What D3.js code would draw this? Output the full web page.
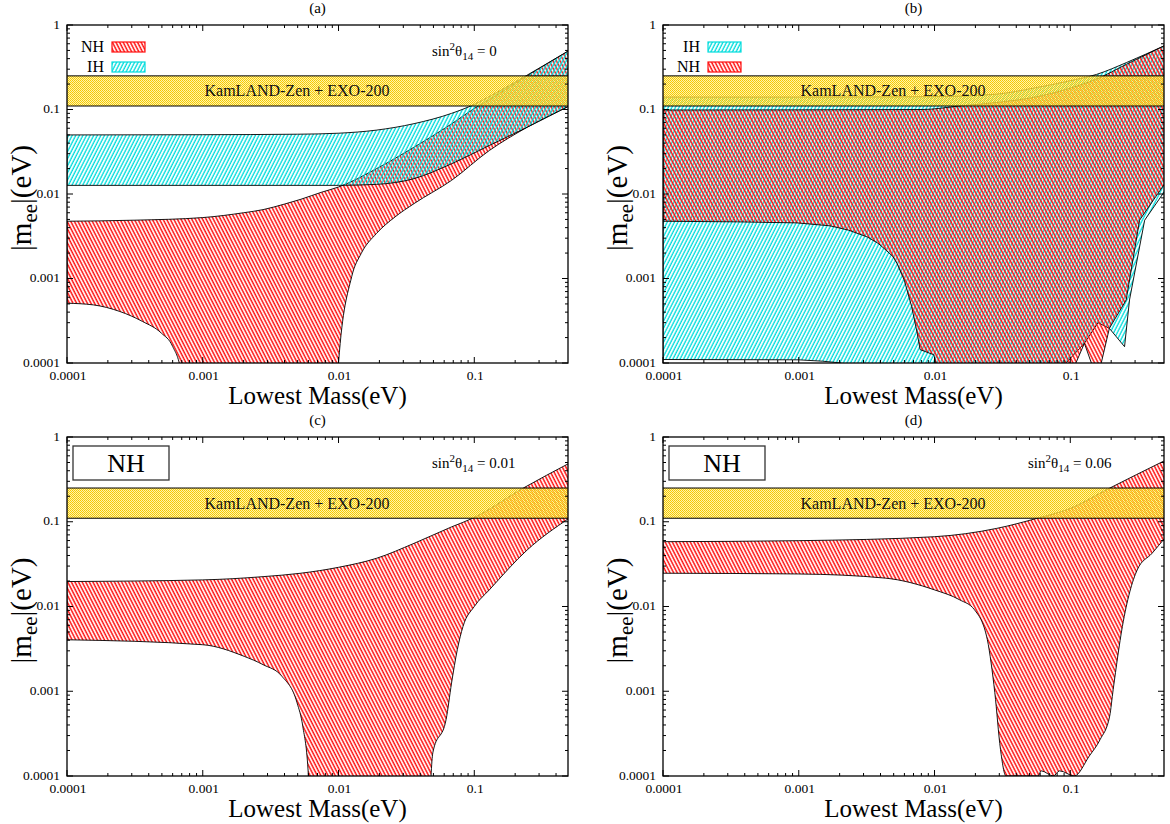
<!DOCTYPE html>
<html><head><meta charset="utf-8">
<script src="https://cdn.jsdelivr.net/npm/d3@7"></script>
<style>
body{margin:0;background:#fff;}
svg{display:block;font-family:"Liberation Serif","Times New Roman",serif;}
</style>
</head><body>
<svg id="chart" width="1170" height="824"></svg>
<script>
// ---------------- data ----------------
const xTickValues = [1e-4, 1e-3, 1e-2, 1e-1];
const xTickLabels = ["0.0001", "0.001", "0.01", "0.1"];
const yTickValues = [1e-4, 1e-3, 1e-2, 1e-1, 1];
const yTickLabels = ["0.0001", "0.001", "0.01", "0.1", "1"];
const xDomain = [1e-4, 0.49];
const yDomain = [1e-4, 1];
const bandRange = [0.11, 0.25];
const bandLabel = "KamLAND-Zen + EXO-200";
const panelLabels = ["(a)", "(b)", "(c)", "(d)"];
const sinValues = ["0", null, "0.01", "0.06"];
const xTitle = "Lowest Mass(eV)";

// boundaries (x ascending); values below 1e-4 lie under the plot floor
// panel (a), sin^2 theta14 = 0
const aNHupper = [[1e-4,0.00476],[3.16e-4,0.0049],[1e-3,0.00526],[0.002,0.006],[0.00278,0.00653],[0.004,0.0076],
  [0.00527,0.00865],[0.0075,0.0105],[0.01,0.0121],[0.019,0.0199],[0.036,0.0358],[0.068,0.0675],[0.1,0.103],
  [0.129,0.131],[0.245,0.25],[0.5,0.5]];
const aNHlower = [[1e-4,5.1e-4],[1.565e-4,4.87e-4],[2.45e-4,4.07e-4],[3.6e-4,3.1e-4],[4.95e-4,2.26e-4],[6.0e-4,1.57e-4],
  [6.9e-4,8e-5],[7.2e-4,5e-5],[0.0098,5e-5],[0.01,1e-4],[0.0125,0.00105],[0.0147,0.00198],[0.019,0.0034],
  [0.0261,0.00536],[0.036,0.0077],[0.068,0.0145],[0.129,0.0327],[0.245,0.0616],[0.5,0.11]];
const aIHupper = [[1e-4,0.05],[0.001,0.0503],[0.005,0.051],[0.01,0.0524],[0.019,0.057],[0.036,0.068],[0.068,0.09],
  [0.1,0.115],[0.129,0.142],[0.245,0.255],[0.5,0.5]];
const aIHlower = [[1e-4,0.01265],[0.01,0.01265],[0.019,0.013],[0.036,0.0152],[0.068,0.0228],[0.129,0.0375],
  [0.245,0.0616],[0.5,0.11]];
// panel (b)
const bIHupper = [[1e-4,0.14],[0.001,0.14],[0.01,0.142],[0.0286,0.152],[0.0536,0.179],[0.1,0.219],[0.156,0.26],
  [0.26,0.36],[0.5,0.575]];
const bIHlower = [[1e-4,1.1e-4],[0.001,1.09e-4],[0.0015,1.05e-4],[0.00206,1e-4],[0.0025,5e-5],[0.09,5e-5],[0.093,1e-4],
  [0.127,0.000171],[0.16,0.0003],[0.194,0.000257],[0.251,0.000156],[0.273,0.000557],[0.353,0.0049],[0.5,0.011]];
const bNHupper = [[1e-4,0.0986],[0.0082,0.1],[0.0152,0.11],[0.0286,0.121],[0.0536,0.139],[0.1,0.179],[0.156,0.229],
  [0.26,0.344],[0.5,0.575]];
const bNHlower = [[1e-4,0.00476],[3.55e-4,0.00468],[9.7e-4,0.00455],[0.0017,0.0042],[0.00233,0.00373],[0.0032,0.0031],
  [0.00385,0.0026],[0.0044,0.00216],[0.00495,0.00181],[0.0053,0.0015],[0.00598,0.00096],[0.00678,0.000466],
  [0.00745,0.000226],[0.00783,0.000144],[0.00989,0.000125],[0.0102,1e-4],[0.0104,5e-5],[0.108,5e-5],[0.11,1e-4],
  [0.127,0.000171],[0.143,1e-4],[0.145,5e-5],[0.167,5e-5],[0.169,1e-4],[0.194,0.000257],[0.258,0.000557],
  [0.324,0.0049],[0.5,0.0135]];
// panel (c), sin^2 theta14 = 0.01
const cNHupper = [[1e-4,0.0197],[0.001,0.0206],[0.00278,0.0225],[0.00527,0.0247],[0.01,0.029],[0.019,0.037],
  [0.036,0.0556],[0.068,0.087],[0.0973,0.11],[0.23,0.25],[0.5,0.49]];
const cNHlower = [[1e-4,0.00405],[0.001,0.00354],[0.00202,0.00258],[0.00278,0.00206],[0.00383,0.0015],[0.00495,0.00073],
  [0.00545,0.000388],[0.006,1e-4],[0.0061,5e-5],[0.047,5e-5],[0.048,1e-4],[0.0495,0.000188],[0.062,0.000464],
  [0.068,0.00125],[0.075,0.0031],[0.0826,0.00582],[0.1,0.01],[0.129,0.0157],[0.245,0.0464],[0.5,0.11]];
// panel (d), sin^2 theta14 = 0.06
const dNHupper = [[1e-4,0.0582],[0.001,0.0598],[0.01,0.0666],[0.0287,0.0835],[0.0571,0.11],[0.1,0.1435],
  [0.188,0.242],[0.5,0.53]];
const dNHlower = [[1e-4,0.0247],[0.001,0.0242],[0.00436,0.0216],[0.01,0.0157],[0.0153,0.012],[0.0197,0.00914],
  [0.0245,0.00405],[0.0261,0.00216],[0.0278,0.00096],[0.0306,0.000206],[0.0336,1e-4],[0.058,1e-4],[0.061,1.15e-4],
  [0.075,1e-4],[0.0834,1.15e-4],[0.107,1e-4],[0.138,0.000172],[0.166,0.00027],[0.195,0.000508],[0.207,0.00105],
  [0.242,0.00582],[0.311,0.027],[0.4,0.0424],[0.5,0.065]];

// ---------------- layout & styles ----------------
const layout = [
  {x0:67, x1:568, y0:25, y1:363},
  {x0:663, x1:1164, y0:25, y1:363},
  {x0:67, x1:568, y0:437, y1:776},
  {x0:663, x1:1164, y0:437, y1:776}
];
const panelRegions = [
  [{u:aNHupper,l:aNHlower,h:"NH",lc:"m"},{u:aIHupper,l:aIHlower,h:"IH",lc:"m"}],
  [{u:bIHupper,l:bIHlower,h:"IH",lc:"lin"},{u:bNHupper,l:bNHlower,h:"NH",lc:"lin"}],
  [{u:cNHupper,l:cNHlower,h:"NH",lc:"m"}],
  [{u:dNHupper,l:dNHlower,h:"NH",lc:"m"}]
];
const legendKinds = [["NH","IH"],["IH","NH"],null,null];
const hatchColor = {NH:"#ff1010", IH:"#00dcdc"};

const svg = d3.select("#chart");
const defs = svg.append("defs");

function hatch(id, color, angle, w){
  const p = defs.append("pattern").attr("id", id)
    .attr("patternUnits","userSpaceOnUse").attr("width",3.2).attr("height",10)
    .attr("patternTransform",`rotate(${angle})`);
  p.append("line").attr("x1",1).attr("x2",1).attr("y1",-1).attr("y2",11)
    .attr("stroke",color).attr("stroke-width",w);
}
hatch("hNH", hatchColor.NH, -27, 1.5);
hatch("hIH", hatchColor.IH, 27, 1.35);

const bp = defs.append("pattern").attr("id","band").attr("patternUnits","userSpaceOnUse")
  .attr("width",2).attr("height",2);
bp.append("rect").attr("width",2).attr("height",2).attr("fill","#fff07a").attr("fill-opacity",0.65);
bp.append("rect").attr("width",1).attr("height",1).attr("fill","#f6c600");
bp.append("rect").attr("x",1).attr("y",1).attr("width",1).attr("height",1).attr("fill","#f8cc10");

layout.forEach((L, i) => {
  const g = svg.append("g");
  const xs = d3.scaleLog().domain(xDomain).range([L.x0, L.x1]);
  const ys = d3.scaleLog().domain(yDomain).range([L.y1, L.y0]);
  const clipId = "clip" + i;
  defs.append("clipPath").attr("id", clipId).append("rect")
    .attr("x", L.x0).attr("y", L.y0).attr("width", L.x1 - L.x0).attr("height", L.y1 - L.y0);
  const plot = g.append("g").attr("clip-path", `url(#${clipId})`);
  const smooth = d3.line().x(d => xs(d[0])).y(d => ys(d[1])).curve(d3.curveMonotoneX);
  const straight = d3.line().x(d => xs(d[0])).y(d => ys(d[1]));

  panelRegions[i].forEach(r => {
    const up = smooth(r.u);
    const lowGen = r.lc === "m" ? smooth : straight;
    const low = lowGen(r.l.slice().reverse());
    const dstr = up + "L" + low.slice(1) + "Z";
    plot.append("path").attr("d", dstr)
      .attr("fill", `url(#h${r.h})`).attr("stroke", "#000").attr("stroke-width", 0.9);
  });

  // experimental band
  const by0 = ys(bandRange[1]), by1 = ys(bandRange[0]);
  plot.append("rect").attr("x", L.x0).attr("y", by0).attr("width", L.x1 - L.x0).attr("height", by1 - by0)
    .attr("fill", "url(#band)");
  [by0, by1].forEach(y => plot.append("line").attr("x1", L.x0).attr("x2", L.x1).attr("y1", y).attr("y2", y)
    .attr("stroke", "#000").attr("stroke-width", 1));
  g.append("text").attr("x", L.x0 + 230).attr("y", (by0 + by1) / 2 + 5.5)
    .attr("text-anchor", "middle").attr("font-size", 16).attr("fill", "#111").text(bandLabel);

  // frame
  g.append("rect").attr("x", L.x0).attr("y", L.y0).attr("width", L.x1 - L.x0).attr("height", L.y1 - L.y0)
    .attr("fill", "none").attr("stroke", "#000").attr("stroke-width", 1.3);

  // ticks
  const tk = g.append("g").attr("stroke", "#000").attr("stroke-width", 1);
  const minorX = [], minorY = [];
  for (let e = -4; e <= 0; e++) for (let m = 2; m <= 9; m++) {
    const v = m * Math.pow(10, e);
    if (v > xDomain[0] && v < xDomain[1]) minorX.push(v);
    if (v > yDomain[0] && v < yDomain[1]) minorY.push(v);
  }
  xTickValues.forEach(v => {
    const x = xs(v);
    tk.append("line").attr("x1", x).attr("x2", x).attr("y1", L.y1).attr("y2", L.y1 - 6);
    tk.append("line").attr("x1", x).attr("x2", x).attr("y1", L.y0).attr("y2", L.y0 + 6);
  });
  minorX.forEach(v => {
    const x = xs(v);
    tk.append("line").attr("x1", x).attr("x2", x).attr("y1", L.y1).attr("y2", L.y1 - 3);
    tk.append("line").attr("x1", x).attr("x2", x).attr("y1", L.y0).attr("y2", L.y0 + 3);
  });
  yTickValues.forEach(v => {
    const y = ys(v);
    tk.append("line").attr("x1", L.x0).attr("x2", L.x0 + 6).attr("y1", y).attr("y2", y);
    tk.append("line").attr("x1", L.x1).attr("x2", L.x1 - 6).attr("y1", y).attr("y2", y);
  });
  minorY.forEach(v => {
    const y = ys(v);
    tk.append("line").attr("x1", L.x0).attr("x2", L.x0 + 3).attr("y1", y).attr("y2", y);
    tk.append("line").attr("x1", L.x1).attr("x2", L.x1 - 3).attr("y1", y).attr("y2", y);
  });

  // tick labels
  xTickValues.forEach((v, k) => {
    g.append("text").attr("x", xs(v) + 1).attr("y", L.y1 + 17).attr("text-anchor", "middle")
      .attr("font-size", 13.5).text(xTickLabels[k]);
  });
  yTickValues.forEach((v, k) => {
    g.append("text").attr("x", L.x0 - 7).attr("y", ys(v) + 3.5).attr("text-anchor", "end")
      .attr("font-size", 13.5).text(yTickLabels[k]);
  });

  // axis titles
  g.append("text").attr("x", (L.x0 + L.x1) / 2).attr("y", L.y1 + 41).attr("text-anchor", "middle")
    .attr("font-size", 25).text(xTitle);
  const yc = (L.y0 + L.y1) / 2 + 4, xc = L.x0 - 36;
  const yt = g.append("text").attr("transform", `translate(${xc},${yc}) rotate(-90)`)
    .attr("text-anchor", "middle").attr("font-size", 29);
  yt.append("tspan").text("|m");
  yt.append("tspan").attr("font-size", 21).attr("dy", 6).text("ee");
  yt.append("tspan").attr("dy", -6).text("|(eV)");

  // panel label
  g.append("text").attr("x", (L.x0 + L.x1) / 2).attr("y", L.y0 - 12).attr("text-anchor", "middle")
    .attr("font-size", 15).text(panelLabels[i]);

  // sin^2 theta14 text
  if (sinValues[i] !== null) {
    const st = g.append("text").attr("x", L.x0 + 365).attr("y", L.y0 + 31).attr("font-size", 15);
    st.append("tspan").text("sin");
    st.append("tspan").attr("font-size", 11).attr("dy", -6).text("2");
    st.append("tspan").attr("dy", 6).text("θ");
    st.append("tspan").attr("font-size", 11).attr("dy", 4).text("14");
    st.append("tspan").attr("dy", -4).text(" = " + sinValues[i]);
  }

  // legends
  if (legendKinds[i]) {
    legendKinds[i].forEach((h, k) => {
      const yb = L.y0 + 27 + k * 20;
      g.append("text").attr("x", L.x0 + 37).attr("y", yb).attr("text-anchor", "end")
        .attr("font-size", 16).text(h);
      g.append("rect").attr("x", L.x0 + 45).attr("y", yb - 10).attr("width", 33).attr("height", 10)
        .attr("fill", `url(#h${h})`).attr("stroke", hatchColor[h]).attr("stroke-width", 1.2);
    });
  } else {
    g.append("rect").attr("x", L.x0 + 6).attr("y", L.y0 + 9).attr("width", 96).attr("height", 34)
      .attr("fill", "#fff").attr("stroke", "#333").attr("stroke-width", 1.3);
    g.append("text").attr("x", L.x0 + 59).attr("y", L.y0 + 35).attr("text-anchor", "middle")
      .attr("font-size", 26).text("NH");
  }
});
</script>
</body></html>
